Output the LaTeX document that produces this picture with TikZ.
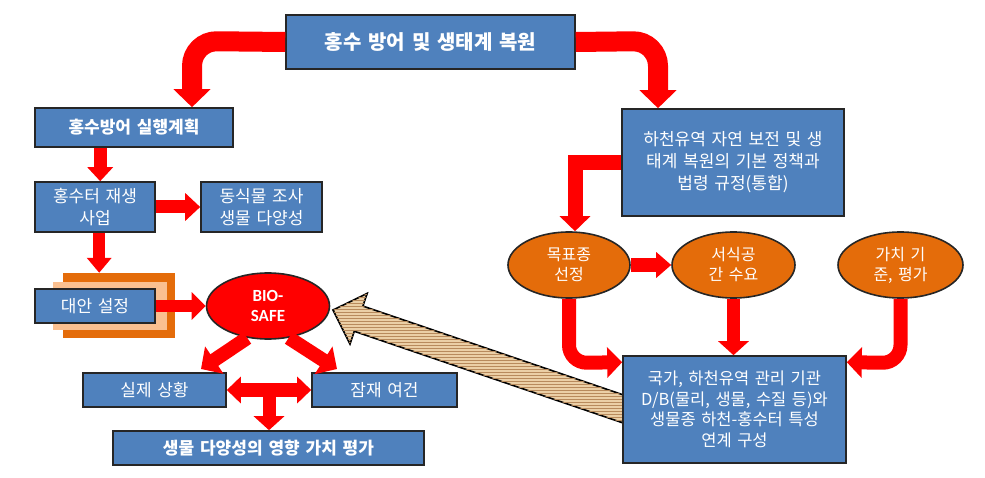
\documentclass[tikz,border=0pt]{standalone}
\usepackage{fontspec}
\setmainfont[WordSpace=1.5]{Noto Sans CJK KR}
\newfontfamily\calfont{Carlito}
\usetikzlibrary{arrows.meta,shapes.geometric,calc,patterns}
\definecolor{boxblue}{HTML}{4F81BD}
\definecolor{ellorange}{HTML}{E46C0A}
\definecolor{peach}{HTML}{FAC090}
\definecolor{tanA}{HTML}{EBCFA6}
\definecolor{tanB}{HTML}{B88A5C}
\begin{document}
\begin{tikzpicture}[x=1pt,y=-1pt,
  bbox/.style={draw=black!85, line width=1.6pt, fill=boxblue, text=white, align=center, inner sep=0pt, font=\fontsize{17}{22}\selectfont},
  oell/.style={ellipse, draw=black!85, line width=1.6pt, fill=ellorange, text=white, align=center, inner sep=0pt, font=\fontsize{16}{20}\selectfont},
  rarr/.style n args={3}{draw=red, line width=#1, -{Triangle[width=#2,length=#3]}},
  darr/.style n args={3}{draw=red, line width=#1, {Triangle[width=#2,length=#3]}-{Triangle[width=#2,length=#3]}},
]
\useasboundingbox (0,0) rectangle (985,478);

% hatched big arrow (drawn first, box covers its end)
\filldraw[fill=tanA, draw=black, line width=1.6pt]
  (333,310) -- (367.2,293.4) -- (362.9,306.1) -- (630.9,397.5) -- (622.3,422.7) -- (354.3,331.3) -- (350.0,344.0) -- cycle;
\path[pattern=horizontal lines, pattern color=tanB]
  (333,310) -- (367.2,293.4) -- (362.9,306.1) -- (630.9,397.5) -- (622.3,422.7) -- (354.3,331.3) -- (350.0,344.0) -- cycle;

% nodes
\node[bbox, minimum width=289, minimum height=54, font=\fontsize{20}{24}\selectfont\bfseries] (top) at (430.5,42) {홍수 방어 및 생태계 복원};
\node[bbox, minimum width=198, minimum height=39, font=\fontsize{17}{22}\selectfont\bfseries] (plan) at (134,127.5) {홍수방어 실행계획};
\node[bbox, minimum width=120, minimum height=50] (regen) at (95,207) {홍수터 재생\\사업};
\node[bbox, minimum width=121, minimum height=50] (survey) at (261.5,207) {동식물 조사\\생물 다양성};
\node[fill=ellorange, minimum width=112, minimum height=65, inner sep=0pt] (altbg) at (119,305.5) {};
\node[fill=peach, minimum width=114, minimum height=48, inner sep=0pt] (altmid) at (110,306) {};
\node[bbox, minimum width=120, minimum height=34] (alt) at (95,306) {대안 설정};
\node[ellipse, draw=black!85, line width=1.6pt, fill=red, text=white, align=center, inner sep=0pt,
  minimum width=123, minimum height=66, font=\calfont\fontsize{17}{20}\selectfont\bfseries] (bio) at (268,306) {BIO-\\SAFE};
\node[bbox, minimum width=143, minimum height=34] (real) at (154.5,390) {실제 상황};
\node[bbox, minimum width=145, minimum height=34] (pot) at (384.5,390) {잠재 여건};
\node[bbox, minimum width=311, minimum height=34, font=\fontsize{17}{22}\selectfont\bfseries] (eval) at (268.5,448) {생물 다양성의 영향 가치 평가};
\node[bbox, minimum width=222, minimum height=107] (law) at (733,162.5) {하천유역 자연 보전 및 생\\태계 복원의 기본 정책과\\법령 규정(통합)};
\node[oell, minimum width=122, minimum height=66] (e1) at (569,265) {목표종\\선정};
\node[oell, minimum width=123, minimum height=66] (e2) at (733.5,265) {서식공\\간 수요};
\node[oell, minimum width=125, minimum height=66] (e3) at (900.5,265) {가치 기\\준, 평가};
\node[bbox, minimum width=223, minimum height=107, font=\fontsize{16.5}{20.5}\selectfont] (db) at (734.5,409.5) {국가, 하천유역 관리 기관\\D/B(물리, 생물, 수질 등)와\\생물종 하천-홍수터 특성\\연계 구성};

% coordinates
\coordinate (cL) at (192,41);
\coordinate (cR) at (658,41);
\coordinate (cLaw) at (575,163);
\coordinate (p1) at ($(plan.south west)+(66,0)$);
\coordinate (p2) at ($(regen.south west)+(65,0)$);
\coordinate (rt) at (201,369);
\coordinate (pt) at (337,369);
\coordinate (mid) at ($(real.east)!0.5!(pot.west)$);
\coordinate (k1) at (569,363);
\coordinate (k3) at (900.5,363);
\coordinate (dbL) at ($(db.north west)+(0,7)$);
\coordinate (dbR) at ($(db.north east)+(0,7)$);

% red arrows
\draw[rarr={20}{36}{18}, rounded corners=25] (top.west) -- (cL) -- (cL |- plan.north);
\draw[rarr={20}{36}{18}, rounded corners=25] (top.east) -- (cR) -- (cR |- law.north);
\draw[rarr={13}{25}{14}] (p1) -- (p1 |- regen.north);
\draw[rarr={13}{27}{15}] (regen.east) -- (survey.west);
\draw[rarr={12}{24}{15}] (p2) -- (p2 |- altbg.north);
\draw[rarr={12}{27}{14}] (alt.east) -- (bio.west);
\draw[rarr={14}{32}{16}] (bio.237) -- (rt);
\draw[rarr={14}{32}{16}] (bio.303) -- (pt);
\draw[darr={14}{26}{14}] (real.east) -- (pot.west);
\draw[rarr={13}{30}{14}] (mid) -- (mid |- eval.north);
\draw[rarr={15}{30}{15}] (law.west |- cLaw) -- (cLaw) -- (cLaw |- e1.north);
\draw[rarr={14}{25}{15}] (e1.east) -- (e2.west);
\draw[rarr={14}{30}{15}, rounded corners=18] (e1.south) -- (k1) -- (dbL);
\draw[rarr={13}{30}{14}] (e2.south) -- (e2.south |- db.north);
\draw[rarr={14}{30}{15}, rounded corners=18] (e3.south) -- (k3) -- (dbR);
\end{tikzpicture}
\end{document}
